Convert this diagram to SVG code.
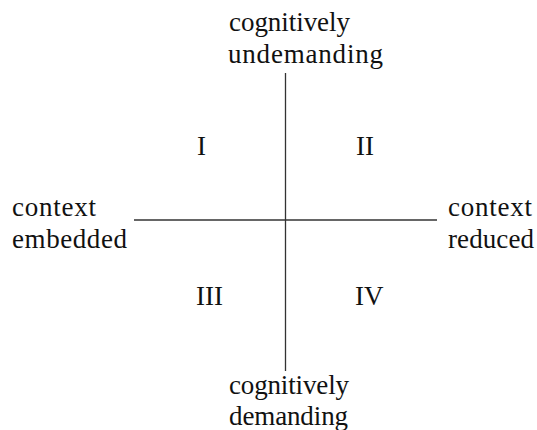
<svg xmlns="http://www.w3.org/2000/svg" width="537" height="430" viewBox="0 0 537 430">
<style>
.t{font-family:'Liberation Serif','Times New Roman',Times,serif;font-size:27px;fill:#111}
.ax{stroke:#333;stroke-width:1.3;fill:none}
</style>
<rect width="537" height="430" fill="#fff"/>
<g id="connectors">
<line class="ax" x1="285.5" y1="73" x2="285.5" y2="371"/>
<line class="ax" x1="134" y1="220" x2="437" y2="220"/>
</g>
<g class="t">
<g id="top"><text x="229" y="31" textLength="121">cognitively</text><text x="228" y="63" textLength="155">undemanding</text></g>
<g id="bottom"><text x="229" y="394" textLength="120">cognitively</text><text x="229" y="425" textLength="119">demanding</text></g>
<g id="left"><text x="12" y="216" textLength="84">context</text><text x="12" y="248" textLength="115">embedded</text></g>
<g id="right"><text x="448" y="216" textLength="84">context</text><text x="448" y="248" textLength="86">reduced</text></g>
<g id="q1"><text x="197" y="155">I</text></g>
<g id="q2"><text x="356" y="155">II</text></g>
<g id="q3"><text x="196" y="305">III</text></g>
<g id="q4"><text x="355" y="305">IV</text></g>
</g>
</svg>
